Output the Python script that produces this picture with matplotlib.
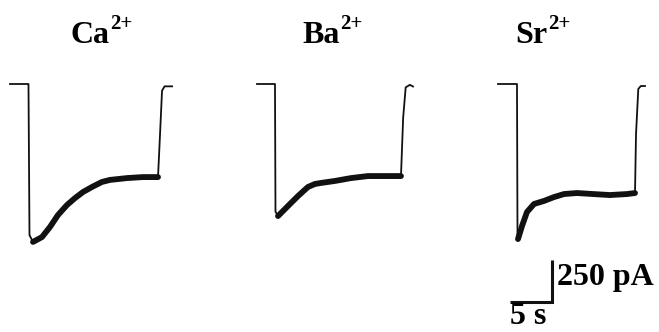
import matplotlib
matplotlib.use("Agg")
import matplotlib.pyplot as plt

plt.rcParams['font.family'] = ['Liberation Serif', 'DejaVu Serif']

# ---- data: whole-cell current traces (time in s from trace start, current in pA) ----
ions = ['Ca', 'Ba', 'Sr']
charge = '2+'

# thin parts (holding, step on | step off, holding)
ca_t = [0.0, 2.20, 2.32, 2.74, 17.62, 17.86, 18.1, 18.4, 19.3]
ca_i = [0.0, 0.0, -900, -940, -554, -300, -40, -14, -14]
ba_t = [0.0, 2.14, 2.2, 2.5, 17.14, 17.4, 17.7, 18.2, 18.57]
ba_i = [0.0, 0.0, -760, -786, -548, -200, -20, -5, -15]
sr_t = [0.0, 2.26, 2.32, 2.38, 16.31, 16.43, 16.7, 17.0, 17.5]
sr_i = [0.0, 0.0, -890, -923, -649, -300, -30, -12, -12]

# noisy inactivating portion during the step
ca_dt = [2.74, 3.81, 4.76, 5.71, 6.79, 7.74, 8.69, 9.76, 10.95, 11.90, 13.93, 15.83, 17.62]
ca_di = [-940, -911, -851, -780, -720, -679, -643, -613, -583, -571, -560, -554, -554]
ba_dt = [2.50, 3.69, 4.88, 6.07, 6.9, 7.62, 9.29, 11.19, 13.21, 15.24, 17.14]
ba_di = [-786, -726, -667, -613, -595, -589, -577, -560, -548, -548, -548]
sr_dt = [2.38, 2.86, 3.45, 4.29, 5.48, 6.67, 7.86, 9.40, 11.31, 13.33, 15.36, 16.31]
sr_di = [-923, -845, -762, -714, -696, -673, -655, -649, -655, -661, -655, -649]

scale_pA = 250
scale_s = 5

# ---- layout ----
W, H = 659, 332
px_per_s = 8.4
px_per_pA = 0.168
base_px = 84.0
offsets_px = [10, 257, 498]
title_left_px = [70, 302, 515]

fig = plt.figure(figsize=(W / 100, H / 100), dpi=100)
ax = fig.add_axes([0, 0, 1, 1])
ax.set_xlim(0, W / px_per_s)
ax.set_ylim((base_px - H) / px_per_pA, base_px / px_per_pA)
ax.axis('off')

col = '#111111'
traces = [(ca_t, ca_i, ca_dt, ca_di), (ba_t, ba_i, ba_dt, ba_di), (sr_t, sr_i, sr_dt, sr_di)]
for (t, i, dt, di), off in zip(traces, offsets_px):
    o = off / px_per_s
    ax.plot([o + v for v in t[:4]], i[:4], color=col, lw=1.3, solid_joinstyle='round')
    ax.plot([o + v for v in t[4:]], i[4:], color=col, lw=1.3, solid_joinstyle='round')
    ax.plot([o + v for v in dt], di, color=col, lw=4.2, solid_capstyle='round',
            solid_joinstyle='round')

renderer = fig.canvas.get_renderer()
for ion, xp in zip(ions, title_left_px):
    tx = fig.text(xp / W, 1 - 43 / H, ion, ha='left', va='baseline', fontsize=23,
                  fontweight='bold')
    bb = tx.get_window_extent(renderer)
    fig.text((bb.x1 + 1) / W, 1 - 29 / H, charge, ha='left', va='baseline', fontsize=15,
             fontweight='bold')

# scale bar
cx = 552 / px_per_s
cy = (base_px - 302) / px_per_pA
ax.plot([cx - scale_s, cx, cx], [cy, cy, cy + scale_pA], color=col, lw=2.2,
        solid_joinstyle='miter', solid_capstyle='butt')
fig.text(557 / W, 1 - 285 / H, f'{scale_pA} pA', ha='left', va='baseline',
         fontsize=23, fontweight='bold')
fig.text(510 / W, 1 - 331 / H, f'{scale_s} s', ha='left', va='bottom',
         fontsize=23, fontweight='bold')

fig.savefig('out.png', dpi=100, facecolor='white')
